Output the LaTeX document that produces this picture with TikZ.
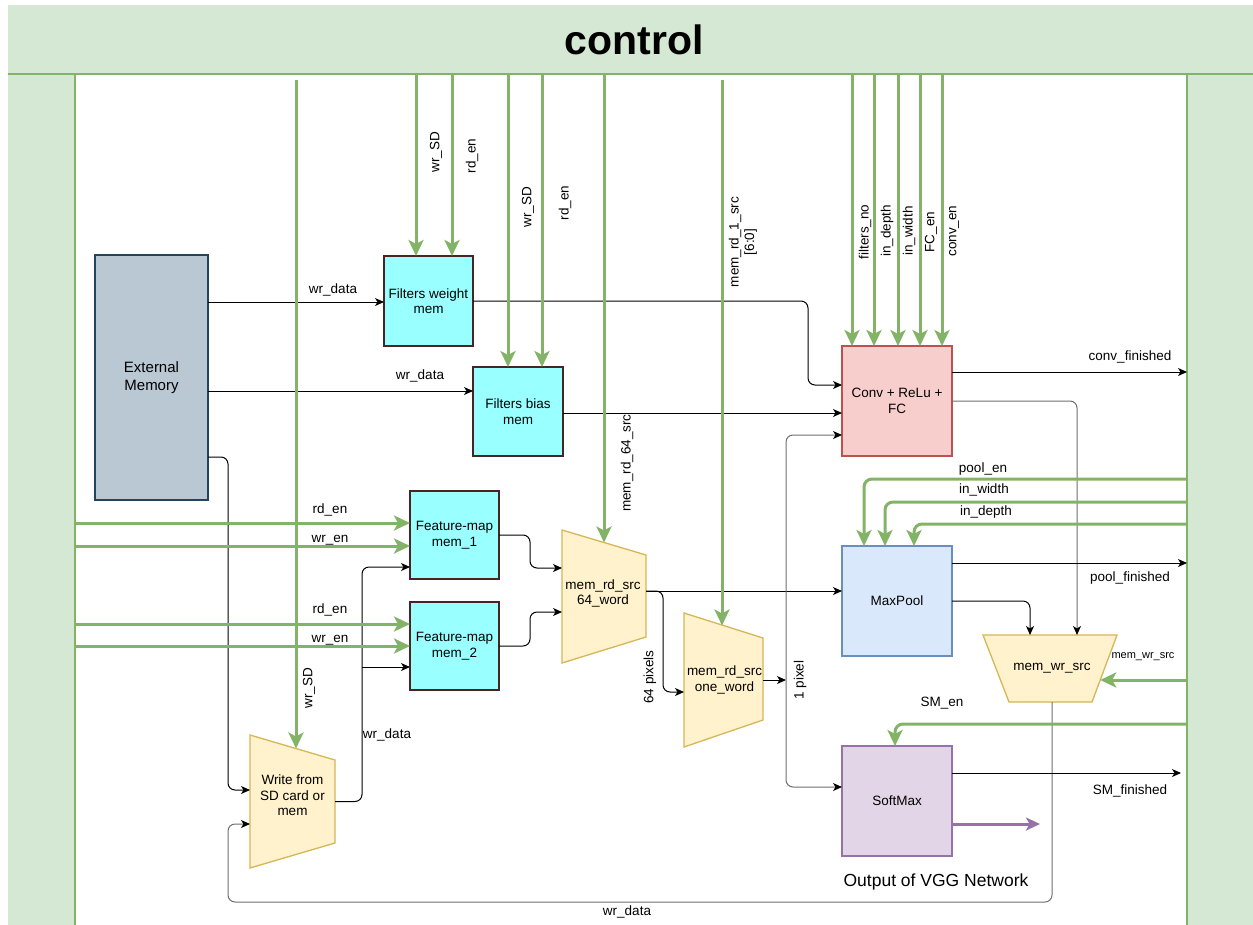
\documentclass[tikz,border=0pt]{standalone}
\usepackage{fontspec}
\setmainfont{Liberation Sans}
\usetikzlibrary{arrows.meta}
\usetikzlibrary{calc}

\definecolor{ctrlgreen}{HTML}{D5E8D4}
\definecolor{siggreen}{HTML}{82B366}
\definecolor{memcyan}{HTML}{99FFFF}
\definecolor{memline}{HTML}{4A2424}
\definecolor{extfill}{HTML}{BAC8D3}
\definecolor{extline}{HTML}{23445D}
\definecolor{muxfill}{HTML}{FFF2CC}
\definecolor{muxline}{HTML}{D6B656}
\definecolor{convfill}{HTML}{F8CECC}
\definecolor{convline}{HTML}{B85450}
\definecolor{poolfill}{HTML}{DAE8FC}
\definecolor{poolline}{HTML}{6C8EBF}
\definecolor{smfill}{HTML}{E1D5E7}
\definecolor{smline}{HTML}{9673A6}
\definecolor{wiregray}{HTML}{6E6E6E}

\newcommand{\lblfont}{\fontsize{13.5}{15.5}\selectfont}

\begin{document}
\begin{tikzpicture}[x=1pt,y=-1pt]
    \tikzset{block/.style = {shape=rectangle,draw,line width=1.3pt,inner sep=0pt,outer sep=0pt,align=center,font=\lblfont}}
    \tikzset{memblock/.style = {block,fill=memcyan,draw=memline}}
    \tikzset{muxframe/.style = {shape=rectangle,draw=none,inner sep=0pt,outer sep=0pt}}
    \tikzset{muxshape/.style = {fill=muxfill,draw=muxline,line width=1.3pt}}
    \tikzset{panel/.style = {shape=rectangle,fill=ctrlgreen,draw=none,inner sep=0pt,outer sep=0pt}}
    \tikzset{panelline/.style = {draw=siggreen,line width=1.5pt}}
    \tikzset{edge/.style = {-{Stealth[length=9pt,width=8pt,inset=2.5pt]},line width=1pt,rounded corners=7pt}}
    \tikzset{edgegray/.style = {edge,draw=wiregray,-{Stealth[length=9pt,width=8pt,inset=2.5pt,color=black]}}}
    \tikzset{sig/.style = {-{Stealth[length=16pt,width=15pt,inset=4pt]},draw=siggreen,line width=3pt,rounded corners=8pt}}
    \tikzset{vggout/.style = {-{Stealth[length=14pt,width=13pt,inset=3.5pt]},draw=smline,line width=3pt}}
    \tikzset{lbl/.style = {inner sep=0pt,font=\lblfont}}
    \tikzset{vlbl/.style = {lbl,rotate=90,align=center}}

    \useasboundingbox (0,0) rectangle (1253,924);

    % control frame
    \node[panel,minimum width=67,minimum height=856] (lcol) at (41.5,502) {};
    \node[panel,minimum width=73,minimum height=856] (rcol) at (1223.5,502) {};
    \node[panel,minimum width=1252,minimum height=69,font=\fontsize{41}{45}\selectfont\bfseries] (control) at (634,39.5) {control};
    \draw[panelline] (control.south west) -- (control.south east);
    \draw[panelline] (lcol.north east) -- (lcol.south east);
    \draw[panelline] (rcol.north west) -- (rcol.south west);

    % blocks
    \node[block,fill=extfill,draw=extline,minimum width=113,minimum height=245,font=\fontsize{15}{18}\selectfont] (ext) at (151.5,377.5) {External\\Memory};
    \node[memblock,minimum width=89,minimum height=90] (fw) at (428.5,301) {Filters weight\\mem};
    \node[memblock,minimum width=90,minimum height=89] (fb) at (518,411.5) {Filters bias\\mem};
    \node[memblock,minimum width=89,minimum height=88] (fm1) at (454.5,535) {Feature-map\\mem\_1};
    \node[memblock,minimum width=89,minimum height=88] (fm2) at (454.5,646) {Feature-map\\mem\_2};
    \node[block,fill=convfill,draw=convline,minimum size=110] (conv) at (897,401) {Conv + ReLu +\\FC};
    \node[block,fill=poolfill,draw=poolline,minimum size=110] (pool) at (897,601) {MaxPool};
    \node[block,fill=smfill,draw=smline,minimum size=110] (sm) at (897,801) {SoftMax};

    % multiplexers
    \node[muxframe,minimum width=84,minimum height=133] (mux64) at (604,596.5) {};
    \draw[muxshape] (mux64.north west) -- ($(mux64.north east)+(0,25)$) -- ($(mux64.south east)+(0,-26)$) -- (mux64.south west) -- cycle;
    \node[lbl,align=center] (mux64txt) at ($(mux64)+(-1,-3)$) {mem\_rd\_src\\64\_word};

    \node[muxframe,minimum width=79,minimum height=134] (mux1) at (723.5,680) {};
    \draw[muxshape] (mux1.north west) -- ($(mux1.north east)+(0,25)$) -- ($(mux1.south east)+(0,-27)$) -- (mux1.south west) -- cycle;
    \node[lbl,align=center] (mux1txt) at ($(mux1)+(1,0)$) {mem\_rd\_src\\one\_word};

    \node[muxframe,minimum width=85,minimum height=133] (wsel) at (292.5,801.5) {};
    \draw[muxshape] (wsel.north west) -- ($(wsel.north east)+(0,25)$) -- ($(wsel.south east)+(0,-25)$) -- (wsel.south west) -- cycle;
    \node[lbl,align=center] (wseltxt) at ($(wsel)+(0,-6)$) {Write from\\SD card or\\mem};

    \node[muxframe,minimum width=134,minimum height=67] (mwr) at (1050,668.5) {};
    \draw[muxshape] (mwr.north west) -- (mwr.north east) -- ($(mwr.south east)+(-25,0)$) -- ($(mwr.south west)+(26,0)$) -- cycle;
    \node[lbl] (mwrtxt) at ($(mwr)+(2,0)$) {mem\_wr\_src};

    % data path
    \coordinate (extA) at ($(ext.east)+(0,-75.5)$);
    \coordinate (extB) at ($(ext.east)+(0,13.5)$);
    \coordinate (extC) at ($(ext.east)+(0,79.5)$);
    \coordinate (wselA) at ($(wsel.west)+(0,-11.5)$);
    \coordinate (wselB) at ($(wsel.west)+(0,22.5)$);
    \draw[edge] (extA) -- (extA -| fw.west);
    \node[lbl] (wrdata1) at (333,290) {wr\_data};
    \draw[edge] (extB) -- (extB -| fb.west);
    \node[lbl] (wrdata2) at (420,376) {wr\_data};
    \draw[edge] (extC) -- ++(20,0) |- (wselA);
    \draw[edgegray] ($(mwr.south)+(2,0)$) -- ++(0,200) -| ($(wselB)+(-22,0)$) -- (wselB);
    \node[lbl] (wrdata5) at (627,912) {wr\_data};

    \coordinate (fm1C) at ($(fm1.west)+(0,32)$);
    \coordinate (fm2C) at ($(fm2.west)+(0,21)$);
    \coordinate (wrbus) at ($(wsel.east)+(27,0)$);
    \draw[edge] (wsel.east) -- (wrbus) |- (fm1C);
    \draw[edge] (wrbus |- fm2C) -- (fm2C);
    \node[lbl] (wrdata3) at (387,735) {wr\_data};

    \coordinate (convA) at ($(conv.west)+(0,-16)$);
    \coordinate (convB) at ($(conv.west)+(0,12)$);
    \coordinate (convC) at ($(conv.west)+(0,34)$);
    \draw[edge] (fw.east) -- ++(335,0) |- (convA);
    \draw[edge] (convB -| fb.east) -- (convB);

    \coordinate (m64in1) at ($(mux64.west)+(0,-28.5)$);
    \coordinate (m64in2) at ($(mux64.west)+(0,15.5)$);
    \coordinate (m64out) at ($(mux64.east)+(0,-5.5)$);
    \coordinate (m1in) at ($(mux1.west)+(0,12)$);
    \draw[edge] (fm1.east) -- ++(31,0) |- (m64in1);
    \draw[edge] (fm2.east) -- ++(31,0) |- (m64in2);
    \draw[edge] (m64out) -- (m64out -| pool.west);
    \draw[edge] (m64out) -- ++(17,0) |- (m1in);
    \node[vlbl] (pix64) at (650,677) {64 pixels};

    \coordinate (pixbus) at ($(mux1.east)+(23,0)$);
    \coordinate (smA) at ($(sm.west)+(0,-14)$);
    \draw[edge] (mux1.east) -- (pixbus);
    \draw[edgegray] (pixbus) |- (convC);
    \draw[edgegray] (pixbus) |- (smA);
    \node[vlbl] (pix1) at (800,680) {1 pixel};

    % outputs
    \coordinate (convO) at ($(conv.east)+(0,-29)$);
    \coordinate (poolO) at ($(pool.east)+(0,-38)$);
    \coordinate (smO) at ($(sm.east)+(0,-28)$);
    \coordinate (mwrA) at ($(mwr.north)+(-20,0)$);
    \coordinate (mwrB) at ($(mwr.north)+(27,0)$);
    \draw[edge] (convO) -- (convO -| rcol.west);
    \node[lbl] (convfin) at (1130,357) {conv\_finished};
    \draw[edgegray] (conv.east) -| (mwrB);
    \draw[edge] (poolO) -- (poolO -| rcol.west);
    \node[lbl] (poolfin) at (1130,578) {pool\_finished};
    \draw[edge] (pool.east) -| (mwrA);
    \draw[edge] (smO) -- ($(smO -| rcol.west)+(-6,0)$);
    \node[lbl] (smfin) at (1130,791) {SM\_finished};
    \draw[vggout] ($(sm.east)+(0,23)$) -- ++(88,0);
    \node[lbl,font=\fontsize{17.5}{20}\selectfont] (vggtxt) at (936,882) {Output of VGG Network};

    % control signals from the top
    \coordinate (fwA) at ($(fw.north)+(-12.5,0)$);
    \coordinate (fwB) at ($(fw.north)+(23.5,0)$);
    \coordinate (fbA) at ($(fb.north)+(-10,0)$);
    \coordinate (fbB) at ($(fb.north)+(24,0)$);
    \coordinate (m64sel) at ($(mux64.north)+(0,12.5)$);
    \coordinate (m1sel) at ($(mux1.north)+(-1.5,12.5)$);
    \coordinate (wselsel) at ($(wsel.north)+(3.5,13.5)$);
    \coordinate (convS1) at ($(conv.north)+(-45,0)$);
    \coordinate (convS2) at ($(conv.north)+(-23,0)$);
    \coordinate (convS3) at ($(conv.north)+(1,0)$);
    \coordinate (convS4) at ($(conv.north)+(23,0)$);
    \coordinate (convS5) at ($(conv.north)+(45,0)$);
    \draw[sig] ($(control.south -| wselsel)+(0,6)$) -- (wselsel);
    \node[vlbl] (wsd3) at (309,688) {wr\_SD};
    \draw[sig] (control.south -| fwA) -- (fwA);
    \draw[sig] (control.south -| fwB) -- (fwB);
    \node[vlbl] (wsd1) at (436,152) {wr\_SD};
    \node[vlbl] (rden1) at (472,156) {rd\_en};
    \draw[sig] (control.south -| fbA) -- (fbA);
    \draw[sig] (control.south -| fbB) -- (fbB);
    \node[vlbl] (wsd2) at (528,207) {wr\_SD};
    \node[vlbl] (rden2) at (565,203) {rd\_en};
    \draw[sig] (control.south -| m64sel) -- (m64sel);
    \node[vlbl] (sel64) at (627,463) {mem\_rd\_64\_src};
    \draw[sig] ($(control.south -| m1sel)+(0,6)$) -- (m1sel);
    \node[vlbl] (sel1) at (743,242) {mem\_rd\_1\_src\\{[6:0]}};
    \draw[sig] (control.south -| convS1) -- (convS1);
    \draw[sig] (control.south -| convS2) -- (convS2);
    \draw[sig] (control.south -| convS3) -- (convS3);
    \draw[sig] (control.south -| convS4) -- (convS4);
    \draw[sig] (control.south -| convS5) -- (convS5);
    \node[vlbl] (filno) at (865,232) {filters\_no};
    \node[vlbl] (indep1) at (887,231) {in\_depth};
    \node[vlbl] (inwid1) at (909,231) {in\_width};
    \node[vlbl] (fcen) at (931,232) {FC\_en};
    \node[vlbl] (conven) at (954,231) {conv\_en};

    % control signals from the left
    \coordinate (fm1A) at ($(fm1.west)+(0,-12)$);
    \coordinate (fm1B) at ($(fm1.west)+(0,11)$);
    \coordinate (fm2A) at ($(fm2.west)+(0,-22)$);
    \coordinate (fm2B) at (fm2.west);
    \draw[sig] (lcol.east |- fm1A) -- (fm1A);
    \draw[sig] (lcol.east |- fm1B) -- (fm1B);
    \draw[sig] (lcol.east |- fm2A) -- (fm2A);
    \draw[sig] (lcol.east |- fm2B) -- (fm2B);
    \node[lbl] (rden3) at (330,510) {rd\_en};
    \node[lbl] (wren1) at (330,540) {wr\_en};
    \node[lbl] (rden4) at (330,610) {rd\_en};
    \node[lbl] (wren2) at (330,640) {wr\_en};

    % control signals from the right
    \coordinate (poolS1) at ($(pool.north)+(-33,0)$);
    \coordinate (poolS2) at ($(pool.north)+(-12,0)$);
    \coordinate (poolS3) at ($(pool.north)+(17,0)$);
    \coordinate (mwrS) at ($(mwr.north east)+(-16.8,45)$);
    \coordinate (smS) at ($(sm.north)+(-2,0)$);
    \draw[sig] ($(rcol.west |- poolS1)+(0,-67)$) -| (poolS1);
    \draw[sig] ($(rcol.west |- poolS2)+(0,-44)$) -| (poolS2);
    \draw[sig] ($(rcol.west |- poolS3)+(0,-22)$) -| (poolS3);
    \node[lbl] (poolen) at (983,469) {pool\_en};
    \node[lbl] (inwid2) at (984,490) {in\_width};
    \node[lbl] (indep2) at (986,512) {in\_depth};
    \draw[sig] (rcol.west |- mwrS) -- (mwrS);
    \node[lbl,font=\fontsize{11}{13}\selectfont] (mwrsel) at (1143,657) {mem\_wr\_src};
    \draw[sig] ($(rcol.west |- smS)+(0,-22)$) -| (smS);
    \node[lbl] (smen) at (942,703) {SM\_en};
\end{tikzpicture}
\end{document}
